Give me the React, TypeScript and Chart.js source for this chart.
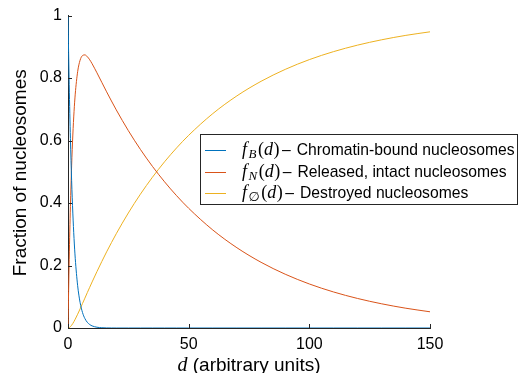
import React, { useEffect, useRef } from 'react';
import { Chart, registerables } from 'chart.js';
Chart.register(...registerables);

const dValues = [0, 0.25, 0.5, 0.75, 1, 1.5, 2, 2.5, 3, 4, 5, 6, 7, 8, 9, 10, 12, 14, 16, 18, 20, 25, 30, 35, 40, 45, 50, 60, 70, 80, 90, 100, 110, 120, 130, 140, 150];
const fB = [1, 0.8825, 0.7788, 0.6873, 0.6065, 0.4724, 0.3679, 0.2865, 0.2231, 0.1353, 0.0821, 0.0498, 0.0302, 0.0183, 0.0111, 0.0067, 0.0025, 0.0009, 0.0003, 0.0001, 0, 0, 0, 0, 0, 0, 0, 0, 0, 0, 0, 0, 0, 0, 0, 0, 0];
const fN = [0, 0.1172, 0.22, 0.3102, 0.3893, 0.5188, 0.6176, 0.6924, 0.7486, 0.8206, 0.857, 0.872, 0.8742, 0.8685, 0.8585, 0.8458, 0.8168, 0.7864, 0.756, 0.7267, 0.6982, 0.6318, 0.5717, 0.5173, 0.468, 0.4235, 0.3832, 0.3137, 0.2569, 0.2103, 0.1722, 0.1409, 0.1154, 0.0945, 0.0774, 0.0633, 0.0519];
const f0 = [0, 0.0003, 0.0012, 0.0025, 0.0042, 0.0088, 0.0145, 0.0211, 0.0283, 0.0441, 0.0609, 0.0782, 0.0956, 0.1132, 0.1304, 0.1475, 0.1807, 0.2127, 0.2437, 0.2732, 0.3018, 0.3682, 0.4283, 0.4827, 0.532, 0.5765, 0.6168, 0.6863, 0.7431, 0.7897, 0.8278, 0.8591, 0.8846, 0.9055, 0.9226, 0.9367, 0.9481];

const seriesSubscripts = ['B', 'N', '\u2205'];
const seriesDescriptions = ['Chromatin-bound nucleosomes', 'Released, intact nucleosomes', 'Destroyed nucleosomes'];
const seriesColors = ['#0072BD', '#D95319', '#EDB120'];
const xTitleVar = 'd';
const xTitleText = ' (arbitrary units)';
const yTitleText = 'Fraction of nucleosomes';

const SANS = '"Liberation Sans", Arial, Helvetica, sans-serif';
const SERIF = '"Liberation Serif", "DejaVu Serif", serif';
const AXIS_COLOR = '#262626';

const decorPlugin = {
  id: 'decor',
  afterDraw(chart: any) {
    const ctx = chart.ctx as CanvasRenderingContext2D;
    const area = chart.chartArea;
    const xs = chart.scales.x;
    const ys = chart.scales.y;
    ctx.save();
    // inward ticks
    ctx.strokeStyle = AXIS_COLOR;
    ctx.lineWidth = 1;
    ys.ticks.forEach((t: any) => {
      const py = Math.round(ys.getPixelForValue(t.value)) + 0.5;
      ctx.beginPath();
      ctx.moveTo(area.left, py);
      ctx.lineTo(area.left + 4, py);
      ctx.stroke();
    });
    xs.ticks.forEach((t: any) => {
      const px = Math.round(xs.getPixelForValue(t.value)) + 0.5;
      ctx.beginPath();
      ctx.moveTo(px, area.bottom);
      ctx.lineTo(px, area.bottom - 4);
      ctx.stroke();
    });

    // y title
    ctx.fillStyle = '#000';
    ctx.font = `19px ${SANS}`;
    ctx.textAlign = 'center';
    ctx.textBaseline = 'alphabetic';
    ctx.save();
    ctx.translate(25.5, (area.top + area.bottom) / 2 + 1);
    ctx.rotate(-Math.PI / 2);
    ctx.fillText(yTitleText, 0, 0);
    ctx.restore();

    // x title
    ctx.textAlign = 'left';
    const varFont = `italic 20px ${SERIF}`;
    const txtFont = `19px ${SANS}`;
    ctx.font = varFont;
    const w1 = ctx.measureText(xTitleVar).width;
    ctx.font = txtFont;
    const w2 = ctx.measureText(xTitleText).width;
    const cx = (area.left + area.right) / 2;
    const x0 = cx - (w1 + w2) / 2;
    const by = 371;
    ctx.font = varFont;
    ctx.fillText(xTitleVar, x0, by);
    ctx.font = txtFont;
    ctx.fillText(xTitleText, x0 + w1, by);

    // legend
    const bx = 200, bTop = 134, bw = 317, bh = 70;
    ctx.fillStyle = '#fff';
    ctx.fillRect(bx, bTop, bw, bh);
    ctx.strokeStyle = AXIS_COLOR;
    ctx.strokeRect(bx + 0.5, bTop + 0.5, bw, bh);
    seriesDescriptions.forEach((desc, i) => {
      const ry = 150 + i * 21.5;
      ctx.strokeStyle = seriesColors[i];
      ctx.lineWidth = 1;
      ctx.beginPath();
      ctx.moveTo(205, Math.round(ry) + 0.5);
      ctx.lineTo(226, Math.round(ry) + 0.5);
      ctx.stroke();
      ctx.fillStyle = '#000';
      ctx.textBaseline = 'alphabetic';
      let x = 242;
      const base = ry + 5;
      ctx.font = `italic 18px ${SERIF}`;
      ctx.fillText('f', x, base);
      x += ctx.measureText('f').width + 1.5;
      if (i === 2) {
        ctx.font = `13px "DejaVu Sans", sans-serif`;
      } else {
        ctx.font = `italic 13px ${SERIF}`;
      }
      ctx.fillText(seriesSubscripts[i], x, base + 3);
      x += ctx.measureText(seriesSubscripts[i]).width + 1.5;
      ctx.font = `18px ${SERIF}`;
      ctx.fillText('(', x, base);
      x += ctx.measureText('(').width;
      ctx.font = `italic 18px ${SERIF}`;
      ctx.fillText('d', x, base);
      x += ctx.measureText('d').width + 0.5;
      ctx.font = `18px ${SERIF}`;
      ctx.fillText(')', x, base);
      x += ctx.measureText(')').width + 2.5;
      ctx.font = `15.7px ${SANS}`;
      ctx.fillText('\u2013', x, base);
      x += ctx.measureText('\u2013').width + 6;
      ctx.fillText(desc, x, base);
    });
    ctx.restore();
  },
};

const fmt = (v: number) => String(parseFloat(Number(v).toFixed(2)));

export default function App() {
  const ref = useRef<HTMLCanvasElement | null>(null);
  useEffect(() => {
    if (!ref.current) return;
    const mk = (vals: number[]) => dValues.map((d, i) => ({ x: d, y: vals[i] }));
    const chart = new Chart(ref.current, {
      type: 'line',
      data: {
        datasets: [
          { data: mk(fB), borderColor: seriesColors[0], borderWidth: 1, pointRadius: 0, cubicInterpolationMode: 'monotone', fill: false },
          { data: mk(fN), borderColor: seriesColors[1], borderWidth: 1, pointRadius: 0, cubicInterpolationMode: 'monotone', fill: false },
          { data: mk(f0), borderColor: seriesColors[2], borderWidth: 1, pointRadius: 0, cubicInterpolationMode: 'monotone', fill: false },
        ],
      },
      options: {
        responsive: false,
        animation: false,
        events: [],
        layout: { padding: { top: 15, right: 89, left: 0, bottom: 0 } },
        plugins: { legend: { display: false }, tooltip: { enabled: false } },
        scales: {
          x: {
            type: 'linear',
            min: 0,
            max: 150,
            grid: { display: false, drawTicks: false },
            border: { display: true, color: AXIS_COLOR, width: 1 },
            ticks: { stepSize: 50, padding: 7, color: '#000', font: { family: SANS, size: 16 }, maxRotation: 0, callback: (v: any) => fmt(v) },
            afterFit: (s: any) => { s.height = 45; },
          },
          y: {
            type: 'linear',
            min: 0,
            max: 1,
            grid: { display: false, drawTicks: false },
            border: { display: true, color: AXIS_COLOR, width: 1 },
            ticks: { stepSize: 0.2, padding: 6, color: '#000', font: { family: SANS, size: 16 }, callback: (v: any) => fmt(v) },
            afterFit: (s: any) => { s.width = 68; },
          },
        },
      } as any,
      plugins: [decorPlugin],
    });
    return () => chart.destroy();
  }, []);
  return (
    <div style={{ position: 'absolute', left: 0, top: 0, width: 519, height: 373, background: '#fff' }}>
      <canvas ref={ref} width={519} height={373} style={{ display: 'block' }} />
    </div>
  );
}
